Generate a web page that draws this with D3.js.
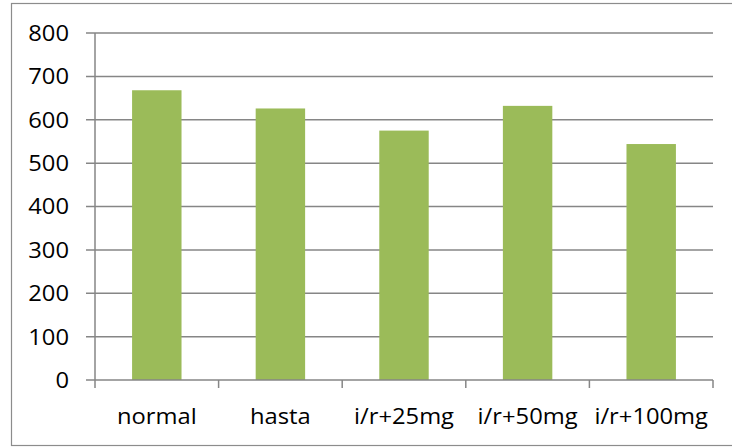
<!DOCTYPE html>
<html>
<head>
<meta charset="utf-8">
<script src="https://cdn.jsdelivr.net/npm/d3@7"></script>
<style>
  html, body { margin: 0; padding: 0; background: #fff; }
  svg text { font-family: "Open Sans", "Liberation Sans", sans-serif; fill: #000; }
</style>
</head>
<body>
<svg id="chart" width="732" height="447"></svg>
<script>
// Groups and their measured values
const categories = ["normal", "hasta", "i/r+25mg", "i/r+50mg", "i/r+100mg"];
const values = [668, 626, 575, 632, 544];
const yTicks = [0, 100, 200, 300, 400, 500, 600, 700, 800];

const svg = d3.select("#chart");
const plot = { left: 95, right: 713, top: 33, bottom: 380 };
const textStretch = 1.08;

// Outer frame of the chart area (right side runs off the canvas)
svg.append("rect")
  .attr("x", 11.5).attr("y", 3.5)
  .attr("width", 740).attr("height", 442)
  .attr("fill", "none").attr("stroke", "#8c8c8c").attr("stroke-width", 1.2);

const x = d3.scaleBand().domain(categories)
  .range([plot.left, plot.right]).paddingInner(0.6).paddingOuter(0.3);
const y = d3.scaleLinear().domain([0, 800]).range([plot.bottom, plot.top]);

// Horizontal gridlines with short ticks left of the axis
svg.append("g").selectAll("line").data(yTicks.filter(d => d > 0)).join("line")
  .attr("x1", plot.left - 9).attr("x2", plot.right)
  .attr("y1", d => y(d)).attr("y2", d => y(d))
  .attr("stroke", "#868686").attr("stroke-width", 1.5);

// Bars
svg.append("g").selectAll("rect").data(categories).join("rect")
  .attr("x", d => x(d))
  .attr("width", x.bandwidth())
  .attr("y", (d, i) => y(values[i]))
  .attr("height", (d, i) => y(0) - y(values[i]))
  .attr("fill", "#9bbb59");

// Value axis line
svg.append("line")
  .attr("x1", plot.left).attr("x2", plot.left)
  .attr("y1", plot.top).attr("y2", plot.bottom)
  .attr("stroke", "#868686").attr("stroke-width", 1.5);

// Category axis line and boundary ticks
svg.append("line")
  .attr("x1", plot.left - 9).attr("x2", plot.right)
  .attr("y1", plot.bottom).attr("y2", plot.bottom)
  .attr("stroke", "#868686").attr("stroke-width", 1.5);
const step = x.step();
const boundaries = d3.range(categories.length + 1).map(i => plot.left + i * step);
svg.append("g").selectAll("line").data(boundaries).join("line")
  .attr("x1", d => d).attr("x2", d => d)
  .attr("y1", plot.bottom).attr("y2", plot.bottom + 8)
  .attr("stroke", "#868686").attr("stroke-width", 1.5);

// Y tick labels
svg.append("g").selectAll("text").data(yTicks).join("text")
  .attr("transform", d => `translate(69,${y(d)}) scale(${textStretch},1)`)
  .attr("dy", "0.36em")
  .attr("text-anchor", "end")
  .attr("font-size", 22)
  .text(d => d);

// Category labels
svg.append("g").selectAll("text").data(categories).join("text")
  .attr("transform", (d, i) => `translate(${plot.left + i * step + step / 2},423.5) scale(${textStretch},1)`)
  .attr("text-anchor", "middle")
  .attr("font-size", 22)
  .text(d => d);
</script>
</body>
</html>
